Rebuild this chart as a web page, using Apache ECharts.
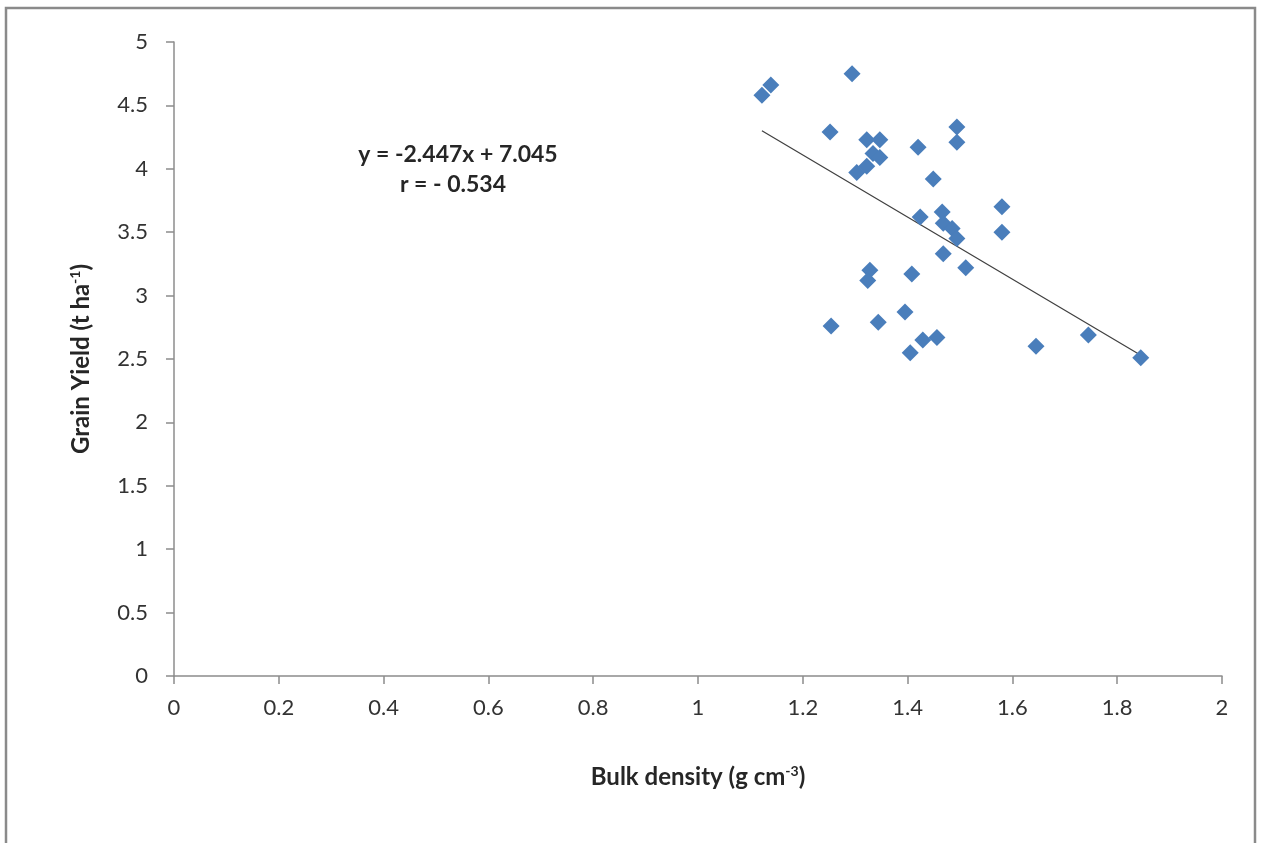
<!DOCTYPE html>
<html>
<head>
<meta charset="utf-8">
<script src="https://cdn.jsdelivr.net/npm/echarts@6/dist/echarts.min.js"></script>
<style>
  html, body { margin: 0; padding: 0; background: #fff; }
  #main { width: 1261px; height: 843px; }
</style>
</head>
<body>
<div id="main"></div>
<script>
// 数据 ==========================================
const bulkDensity = [
    1.122, 1.139, 1.294, 1.252, 1.322, 1.347, 1.334, 1.347, 1.303, 1.322,
    1.420, 1.494, 1.494, 1.449, 1.424, 1.466, 1.468, 1.485, 1.494, 1.580,
    1.580, 1.468, 1.511, 1.408, 1.328, 1.324, 1.254, 1.344, 1.395, 1.429,
    1.456, 1.405, 1.645, 1.745, 1.845
];
const grainYield = [
    4.58, 4.66, 4.75, 4.29, 4.23, 4.23, 4.12, 4.09, 3.97, 4.02,
    4.17, 4.33, 4.21, 3.92, 3.62, 3.66, 3.57, 3.53, 3.45, 3.70,
    3.50, 3.33, 3.22, 3.17, 3.20, 3.12, 2.76, 2.79, 2.87, 2.65,
    2.67, 2.55, 2.60, 2.69, 2.51
];
// 趋势线两端
const trendX = [1.122, 1.845];
const trendY = [4.30, 2.53];

const xTicks = [0, 0.2, 0.4, 0.6, 0.8, 1, 1.2, 1.4, 1.6, 1.8, 2];
const yTicks = [0, 0.5, 1, 1.5, 2, 2.5, 3, 3.5, 4, 4.5, 5];

const FONT = 'Lato, "Open Sans", sans-serif';
const axisColor = '#8c8c8c';
const titleRich = {
    b: { fontFamily: FONT, fontSize: 24, fontWeight: 'bold', color: '#262626' },
    sup: { fontFamily: FONT, fontSize: 14, fontWeight: 'bold', color: '#262626', padding: [0, 0, 12, 0] }
};

const chart = echarts.init(document.getElementById('main'));

const option = {
    backgroundColor: '#fff',
    animation: false,
    grid: { left: 174, right: 39, top: 42, bottom: 167, containLabel: false },
    xAxis: {
        type: 'value',
        min: xTicks[0],
        max: xTicks[xTicks.length - 1],
        interval: 0.2,
        name: '{b|Bulk density (g cm}{sup|-3}{b|)}',
        nameLocation: 'middle',
        nameGap: 88,
        nameTextStyle: { rich: titleRich },
        axisLine: { lineStyle: { color: axisColor, width: 1.5 } },
        axisTick: { show: true, length: 8, lineStyle: { color: axisColor, width: 1.5 } },
        axisLabel: {
            margin: 21,
            fontFamily: FONT, fontSize: 22, color: '#333',
            formatter: v => String(Math.round(v * 10) / 10)
        },
        splitLine: { show: false }
    },
    yAxis: {
        type: 'value',
        min: yTicks[0],
        max: yTicks[yTicks.length - 1],
        interval: 0.5,
        name: '{b|Grain Yield (t ha}{sup|-1}{b|)}',
        nameLocation: 'middle',
        nameGap: 80,
        nameRotate: 90,
        nameTextStyle: { rich: titleRich },
        axisLine: { show: true, lineStyle: { color: axisColor, width: 1.5 } },
        axisTick: { show: true, length: 8, lineStyle: { color: axisColor, width: 1.5 } },
        axisLabel: {
            margin: 26,
            fontFamily: FONT, fontSize: 22, color: '#333',
            formatter: v => String(Math.round(v * 10) / 10)
        },
        splitLine: { show: false }
    },
    series: [
        {
            type: 'line',
            data: trendX.map((x, i) => [x, trendY[i]]),
            symbol: 'none',
            lineStyle: { color: '#404040', width: 1.3 },
            silent: true,
            z: 1
        },
        {
            type: 'scatter',
            data: bulkDensity.map((x, i) => [x, grainYield[i]]),
            symbol: 'diamond',
            symbolSize: [17, 17],
            itemStyle: { color: '#4A7EBB', opacity: 1 },
            z: 2
        }
    ],
    graphic: [
        {
            type: 'rect',
            shape: { x: 6, y: 8, width: 1249, height: 860 },
            style: { fill: 'none', stroke: '#8a8a8a', lineWidth: 2.5 },
            silent: true
        },
        {
            type: 'text',
            x: 458, y: 155,
            style: {
                text: 'y = -2.447x + 7.045',
                font: 'bold 23px ' + FONT, fill: '#262626',
                align: 'center', verticalAlign: 'middle'
            }
        },
        {
            type: 'text',
            x: 453, y: 185,
            style: {
                text: 'r = - 0.534',
                font: 'bold 23px ' + FONT, fill: '#262626',
                align: 'center', verticalAlign: 'middle'
            }
        }
    ]
};

chart.setOption(option);
</script>
</body>
</html>
